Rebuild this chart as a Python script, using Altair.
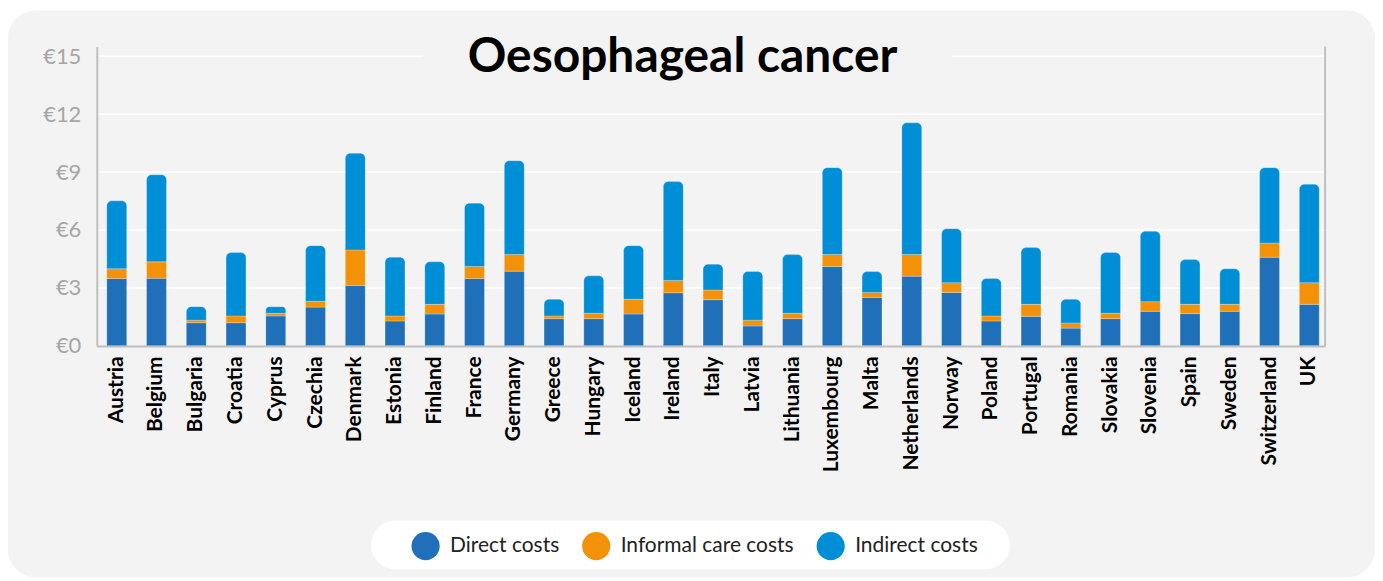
import altair as alt
import pandas as pd

countries = ["Austria", "Belgium", "Bulgaria", "Croatia", "Cyprus", "Czechia", "Denmark",
             "Estonia", "Finland", "France", "Germany", "Greece", "Hungary", "Iceland",
             "Ireland", "Italy", "Latvia", "Lithuania", "Luxembourg", "Malta", "Netherlands",
             "Norway", "Poland", "Portugal", "Romania", "Slovakia", "Slovenia", "Spain",
             "Sweden", "Switzerland", "UK"]
direct = [3.49, 3.50, 1.20, 1.20, 1.55, 2.01, 3.13, 1.29, 1.65, 3.49, 3.87, 1.41, 1.41, 1.65,
          2.75, 2.39, 1.03, 1.41, 4.11, 2.51, 3.61, 2.77, 1.29, 1.53, 0.92, 1.41, 1.79, 1.67,
          1.79, 4.59, 2.15]
informal = [0.50, 0.85, 0.13, 0.35, 0.14, 0.30, 1.84, 0.26, 0.50, 0.62, 0.86, 0.14, 0.28, 0.76,
            0.64, 0.50, 0.30, 0.28, 0.62, 0.26, 1.12, 0.50, 0.26, 0.62, 0.27, 0.28, 0.50, 0.48,
            0.36, 0.74, 1.12]
indirect = [3.52, 4.51, 0.70, 3.28, 0.34, 2.88, 5.00, 3.04, 2.20, 3.28, 4.86, 0.86, 1.94, 2.78,
            5.12, 1.34, 2.52, 3.04, 4.50, 1.08, 6.82, 2.80, 1.94, 2.94, 1.22, 3.14, 3.64, 2.32,
            1.84, 3.90, 5.10]
cost_types = ["Direct costs", "Informal care costs", "Indirect costs"]
cost_colors = ["#1f70b9", "#f39208", "#008fd6"]
title_text = "Oesophageal cancer"
y_ticks = [0, 3, 6, 9, 12, 15]

rows = []
for c, d, i, n in zip(countries, direct, informal, indirect):
    rows.append({"country": c, "cost": cost_types[0], "y0": 0.0, "y1": d})
    rows.append({"country": c, "cost": cost_types[1], "y0": d, "y1": d + i})
    rows.append({"country": c, "cost": cost_types[2], "y0": d + i, "y1": d + i + n})
df = pd.DataFrame(rows)
one = pd.DataFrame({"t": [title_text]})
grid_df = pd.DataFrame({"y1": y_ticks[1:]})

W, H = 1231, 300
yscale = alt.Scale(domain=[0, 15.5], nice=False)
yaxis = alt.Axis(title=None, values=y_ticks, labelExpr="'€' + datum.value",
                 labelFont="Lato", labelFontSize=22, labelColor="#a6a6a6",
                 ticks=False, domainColor="#bfbfbf", domainWidth=2, labelPadding=16,
                 grid=False, zindex=1)

panel = alt.Chart(one).mark_rect(fill="#f3f3f3", cornerRadius=28).encode(
    x=alt.value(-89), x2=alt.value(1281), y=alt.value(-36), y2=alt.value(532))
pill = alt.Chart(one).mark_rect(fill="#ffffff", cornerRadius=25).encode(
    x=alt.value(275), x2=alt.value(915), y=alt.value(475), y2=alt.value(524))
grid = alt.Chart(grid_df).mark_rule(color="#ffffff", strokeWidth=1.5).encode(
    y=alt.Y("y1:Q", scale=yscale, axis=yaxis), x=alt.value(0), x2=alt.value(W))
cover = alt.Chart(one).mark_rect(fill="#f3f3f3").encode(
    x=alt.value(327), x2=alt.value(857), y=alt.value(0), y2=alt.value(22))
right_line = alt.Chart(one).mark_rule(color="#c0c0c0", strokeWidth=2).encode(
    x=alt.value(W), y=alt.value(0), y2=alt.value(H))
title = alt.Chart(one).mark_text(font="Lato", fontSize=48, fontWeight="bold", color="#000000",
                                 align="center", baseline="alphabetic").encode(
    x=alt.value(587), y=alt.value(26), text="t:N")

base = alt.Chart(df).encode(
    x=alt.X("country:N", sort=countries,
            scale=alt.Scale(paddingInner=0.5, paddingOuter=0.2, align=0.63),
            axis=alt.Axis(title=None, labelAngle=-90, labelFont="Lato", labelFontSize=21,
                          labelFontWeight="bold", labelColor="#000000", ticks=False,
                          domainColor="#bfbfbf", domainWidth=2, labelPadding=10, grid=False,
                          zindex=1)),
    y=alt.Y("y1:Q", scale=yscale, axis=yaxis),
    y2="y0:Q",
    color=alt.Color("cost:N", scale=alt.Scale(domain=cost_types, range=cost_colors),
                    legend=alt.Legend(orient="none", legendX=315, legendY=486,
                                      direction="horizontal", title=None, symbolType="circle",
                                      symbolSize=800, labelFont="Lato", labelFontSize=21,
                                      labelColor="#222222", labelOffset=10, columnPadding=22,
                                      padding=0, symbolStrokeWidth=0, symbolOpacity=1,
                                      labelLimit=0)),
)
top_bars = base.transform_filter(alt.datum.cost == cost_types[2]).mark_bar(
    cornerRadiusTopLeft=5, cornerRadiusTopRight=5, stroke="#ffffff", strokeWidth=0.6,
    strokeOpacity=0.4)
low_bars = base.transform_filter(alt.datum.cost != cost_types[2]).mark_bar(
    stroke="#ffffff", strokeWidth=0.6, strokeOpacity=0.4)

chart = alt.layer(panel, pill, grid, cover, low_bars, top_bars, right_line, title).properties(
    width=W, height=H, background="#ffffff",
    padding={"left": 0, "top": 2, "right": 0, "bottom": 0},
).configure_view(stroke=None)

chart.save("out.html", embed_options={"renderer": "svg", "actions": False})
